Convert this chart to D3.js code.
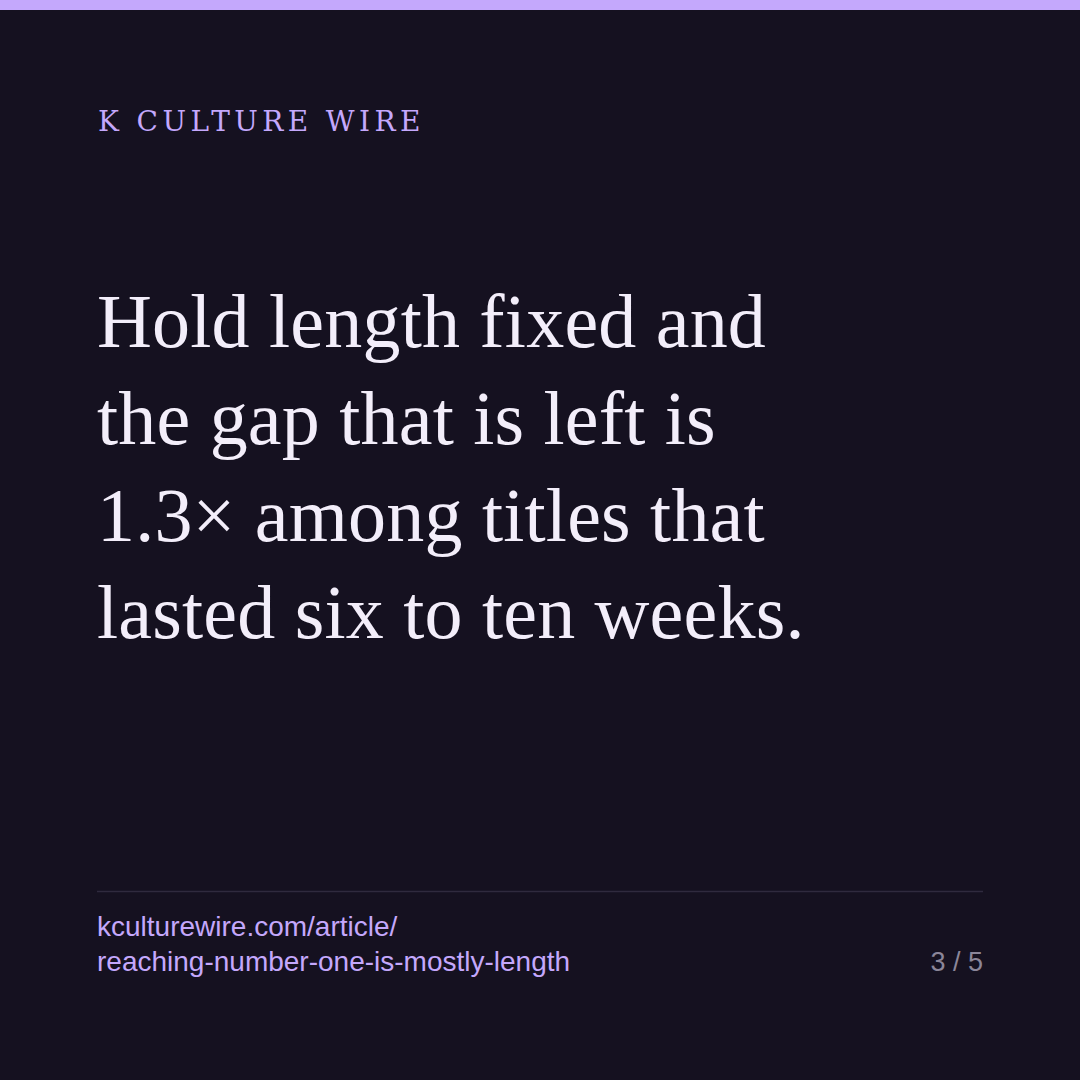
<!DOCTYPE html>
<html>
<head>
<meta charset="utf-8">
<script src="https://cdn.jsdelivr.net/npm/d3@7"></script>
<style>
  html, body { margin: 0; padding: 0; background: #151120; }
  svg { display: block; }
</style>
</head>
<body>
<svg id="card"></svg>
<script>
const brand = ["K CULTURE WIRE"];
const headline = [
  "Hold length fixed and",
  "the gap that is left is",
  "1.3\u00d7 among titles that",
  "lasted six to ten weeks."
];
const urlLines = ["kculturewire.com/article/", "reaching-number-one-is-mostly-length"];
const pageLabel = ["3 / 5"];

const W = 1080, H = 1080;
const svg = d3.select("#card").attr("width", W).attr("height", H);

svg.append("rect").attr("width", W).attr("height", H).attr("fill", "#151120");
// accent bar on top
svg.append("rect").attr("width", W).attr("height", 10).attr("fill", "#c4a8fc");

const serif = "Georgia, 'DejaVu Serif', serif";
const headSerif = "Georgia, 'Liberation Serif', serif";
const sans = "'Liberation Sans', Arial, sans-serif";

svg.selectAll("text.brand")
  .data(brand)
  .enter()
  .append("text")
  .attr("class", "brand")
  .attr("x", 98)
  .attr("y", 131)
  .attr("fill", "#c4a8fc")
  .style("font-family", serif)
  .style("font-size", "28px")
  .style("letter-spacing", "4.4px")
  .text((d) => d);

// headline, one text per line
const lineY = d3.scaleLinear().domain([0, 1]).range([347, 444]);
svg.selectAll("text.head")
  .data(headline)
  .enter()
  .append("text")
  .attr("class", "head")
  .attr("x", 97)
  .attr("y", (d, i) => lineY(i))
  .attr("fill", "#f3eefa")
  .style("font-family", headSerif)
  .style("font-size", "76px")
  .style("letter-spacing", "0.2px")
  .text((d) => d);

// footer rule
svg.append("line")
  .attr("x1", 97).attr("x2", 983)
  .attr("y1", 891.5).attr("y2", 891.5)
  .attr("stroke", "#2f2a3e")
  .attr("stroke-width", 1.5);

svg.selectAll("text.url")
  .data(urlLines)
  .enter()
  .append("text")
  .attr("class", "url")
  .attr("x", 97)
  .attr("y", (d, i) => 936 + i * 35)
  .attr("fill", "#c4a8fc")
  .style("font-family", sans)
  .style("font-size", "28px")
  .text((d) => d);

svg.selectAll("text.page")
  .data(pageLabel)
  .enter()
  .append("text")
  .attr("class", "page")
  .attr("x", 983)
  .attr("y", 971)
  .attr("text-anchor", "end")
  .attr("fill", "#8b8699")
  .style("font-family", sans)
  .style("font-size", "27px")
  .text((d) => d);
</script>
</body>
</html>
